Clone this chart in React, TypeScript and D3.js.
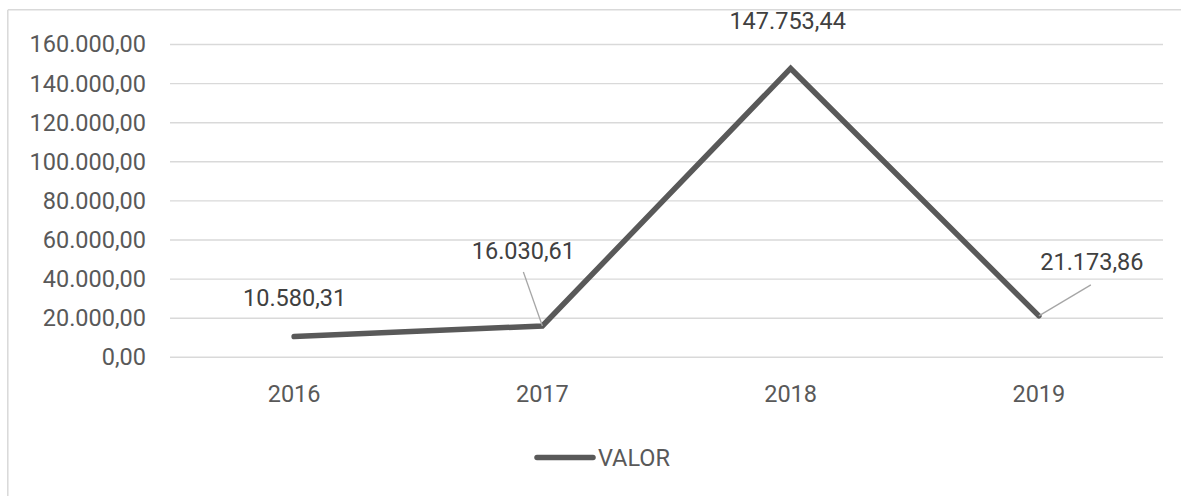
import React from "react";
import * as d3 from "d3";

const categories: string[] = ["2016", "2017", "2018", "2019"];
const values: number[] = [10580.31, 16030.61, 147753.44, 21173.86];
const labels: string[] = ["10.580,31", "16.030,61", "147.753,44", "21.173,86"];
const yTicks: number[] = [0, 20000, 40000, 60000, 80000, 100000, 120000, 140000, 160000];
const seriesName = "VALOR";

const W = 1181;
const H = 496;
const FONT = "Roboto, 'Noto Sans', sans-serif";
const TEXT = "#595959";
const GRID = "#d9d9d9";

function fmt(v: number): string {
  const s = v.toFixed(2);
  const [i, d] = s.split(".");
  const withDots = i.replace(/\B(?=(\d{3})+(?!\d))/g, ".");
  return `${withDots},${d}`;
}

export default function App() {
  const x = d3.scaleBand<string>().domain(categories).range([170, 1163]);
  const y = d3.scaleLinear().domain([0, 160000]).range([357.3, 44.5]);
  const cx = (c: string) => (x(c) as number) + x.bandwidth() / 2;

  const line = d3
    .line<number>()
    .x((_, i) => cx(categories[i]))
    .y((d) => y(d));

  const labelPos = [
    { dx: 0.5, dy: -39, leader: null as null | [number, number] },
    { dx: -19, dy: -75, leader: [-19, -54] as [number, number] },
    { dx: -3, dy: -48, leader: null },
    { dx: 53, dy: -54, leader: [52, -31] as [number, number] },
  ];

  return (
    <svg
      width={W}
      height={H}
      style={{ position: "absolute", left: 0, top: 0, background: "#fff" }}
      fontFamily={FONT}
    >
      <line x1={8} y1={9.8} x2={W} y2={9.8} stroke={GRID} strokeWidth={1.5} />
      <line x1={7.8} y1={9.8} x2={7.8} y2={H} stroke={GRID} strokeWidth={1.5} />

      {yTicks.map((t) => (
        <g key={t}>
          <line x1={170} x2={1163} y1={y(t)} y2={y(t)} stroke={GRID} strokeWidth={1.4} />
          <text x={146} y={y(t)} dy="0.34em" textAnchor="end" fontSize={23.5} fill={TEXT}>
            {fmt(t)}
          </text>
        </g>
      ))}

      {categories.map((c) => (
        <text key={c} x={cx(c)} y={393.5} dy="0.35em" textAnchor="middle" fontSize={23.5} fill={TEXT}>
          {c}
        </text>
      ))}

      <path
        d={line(values) || ""}
        fill="none"
        stroke="#595959"
        strokeWidth={5.5}
        strokeLinejoin="miter"
        strokeLinecap="round"
      />

      {values.map((v, i) => {
        const px = cx(categories[i]);
        const py = y(v);
        const p = labelPos[i];
        return (
          <g key={i}>
            {p.leader && (
              <line
                x1={px}
                y1={py}
                x2={px + p.leader[0]}
                y2={py + p.leader[1]}
                stroke="#a6a6a6"
                strokeWidth={1.3}
              />
            )}
            <text x={px + p.dx} y={py + p.dy} dy="0.35em" textAnchor="middle" fontSize={23.5} fill="#404040">
              {labels[i]}
            </text>
          </g>
        );
      })}

      <line x1={537} x2={593} y1={457.5} y2={457.5} stroke="#595959" strokeWidth={5.5} strokeLinecap="round" />
      <text x={598} y={457.5} dy="0.35em" fontSize={23.5} fill={TEXT}>
        {seriesName}
      </text>
    </svg>
  );
}
